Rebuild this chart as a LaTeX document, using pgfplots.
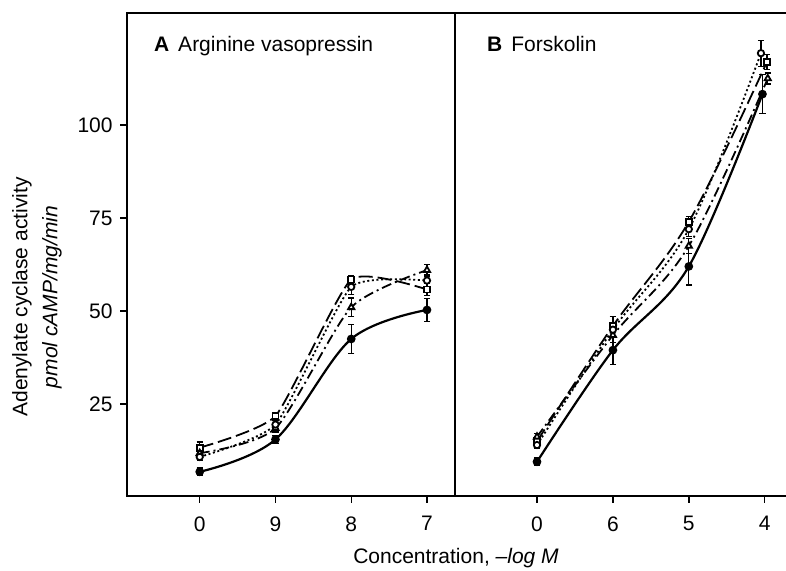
\documentclass[border=0pt]{standalone}
\usepackage{fontspec}
\setmainfont{Liberation Sans}
\usepackage{pgfplots}
\pgfplotsset{compat=1.18}
\begin{document}
\fontsize{10.5}{12.6}\selectfont
\begin{tikzpicture}
\pgfplotsset{
  panel/.style={
    scale only axis, height=241.5pt, ymin=0.3, ymax=130.1,
    axis line style={line width=0.8pt, black},
    tick style={line width=0.7pt, black},
    tick align=outside, xtick pos=bottom, ytick pos=left,
    major tick length=3.5pt,
    xtick={0,1,2,3}, ytick={25,50,75,100},
    /pgf/number format/assume math mode=true,
    tick label style={font=\fontsize{10.5}{12}\selectfont},
    xticklabel style={yshift=-3pt},
    every axis plot/.append style={black, line width=0.9pt, mark size=1.6pt, smooth, tension=0.55,
      error bars/y dir=both, error bars/y explicit,
      error bars/error bar style={line width=0.6pt, solid},
      error bars/error mark options={rotate=90, mark size=1.6pt, line width=0.6pt, solid}},
  },
  sfill/.style={line width=1.1pt, mark=*, mark options={solid, fill=black}},
  ssq/.style={dash pattern=on 7pt off 2.5pt, mark=square*, mark options={solid, fill=white, mark size=1.5pt}},
  scirc/.style={dash pattern=on 1pt off 1.3pt, mark=*, mark options={solid, fill=white}},
  stri/.style={dash pattern=on 5pt off 2pt on 1pt off 2pt, mark=triangle*, mark options={solid, fill=white, mark size=1.8pt}},
}
% Panel A
\begin{axis}[panel, at={(0,0)}, anchor=south west, width=164pt,
  xmin=-0.96, xmax=3.37, xticklabels={0,9,8,7}]
\addplot[ssq, tension=0.3] coordinates {(0,13.3) +- (0,1.5) (1,21.8) +- (0,1) (2,58.5) +- (0,1) (3,55.8) +- (0,1.6)};
\addplot[stri, tension=0.4] coordinates {(0,11.8) +- (0,1) (1,18.5) +- (0,1) (2,51.0) +- (0,2.5) (3,61.0) +- (0,1.6)};
\addplot[scirc, tension=0.3] coordinates {(0,10.8) +- (0,1) (1,19.5) +- (0,1) (2,56.5) +- (0,2) (3,58.2) +- (0,1.5)};
\addplot[sfill] coordinates {(0,6.8) +- (0,1) (1,15.5) +- (0,1) (2,42.5) +- (0,3.9) (3,50.3) +- (0,3)};
\node[anchor=base west] at (rel axis cs:0.06,0.92) {\textbf{A}\hspace{4.5pt}Arginine vasopressin};
\end{axis}
% Panel B
\begin{axis}[panel, at={(164pt,0)}, anchor=south west, width=165.5pt,
  xmin=-1.08, xmax=3.28, xticklabels={0,6,5,4}, hide y axis]
\addplot[ssq] coordinates {(0,15.0) +- (0,1) (1,46.0) +- (0,2.6) (2,74.0) +- (0,1.5) (3.03,117.0) +- (0,2)};
\addplot[stri] coordinates {(0,16.2) +- (0,1) (1,43.5) +- (0,2) (2,67.5) +- (0,2) (3.04,112.5) +- (0,1.5)};
\addplot[scirc] coordinates {(0,14.0) +- (0,1) (1,45.0) +- (0,2) (2,72.0) +- (0,2) (2.95,119.3) +- (0,3.5)};
\addplot[sfill] coordinates {(0,9.5) +- (0,1) (1,39.5) +- (0,3.8) (2,62.0) +- (0,5) (2.97,108.3) +- (0,5.2)};
\node[anchor=base west] at (rel axis cs:0.075,0.92) {\textbf{B}\hspace{4.5pt}Forskolin};
\end{axis}
\node[rotate=90, align=center, font=\fontsize{10.5}{15}\selectfont] at (-45pt,99.5pt)
  {Adenylate cyclase activity\\\textit{pmol cAMP/mg/min}};
\node[anchor=center] at (164.5pt,-31pt) {Concentration, \textit{–log M}};
\pgfresetboundingbox
\path[use as bounding box] (-63.5pt,-37.5pt) rectangle (329.5pt,248pt);
\end{tikzpicture}
\end{document}
